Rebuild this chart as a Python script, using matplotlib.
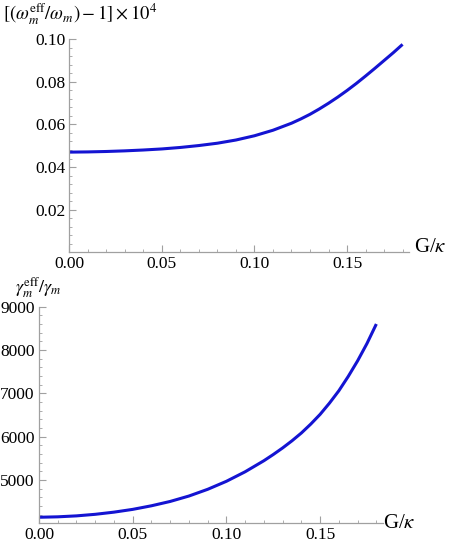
import matplotlib
matplotlib.use("Agg")
import matplotlib.pyplot as plt
from matplotlib.ticker import MultipleLocator, FormatStrFormatter

plt.rcParams['font.family'] = ['Liberation Serif', 'DejaVu Serif']
plt.rcParams['mathtext.fontset'] = 'stix'

# Data
g_kappa = [0.00, 0.01, 0.02, 0.03, 0.04, 0.05, 0.06, 0.07, 0.08, 0.09,
           0.10, 0.11, 0.12, 0.125, 0.13, 0.135, 0.14, 0.145, 0.15, 0.155,
           0.16, 0.165, 0.17, 0.175, 0.18]
omega_shift = [0.0470, 0.0471, 0.0473, 0.0476, 0.0480, 0.0485, 0.0492, 0.0501,
               0.0512, 0.0527, 0.0547, 0.0573, 0.0606, 0.0626, 0.0648, 0.0673,
               0.0700, 0.0729, 0.0760, 0.0793, 0.0828, 0.0864, 0.0901, 0.0938,
               0.0977]
gamma_ratio = [4140, 4150, 4172, 4208, 4258, 4322, 4405, 4505, 4630, 4785,
               4970, 5190, 5445, 5588, 5740, 5905, 6085, 6290, 6515, 6775,
               7060, 7390, 7750, 8150, 8600]

x_ticks = [0.00, 0.05, 0.10, 0.15]
top_yticks = [0.02, 0.04, 0.06, 0.08, 0.10]
bot_yticks = [5000, 6000, 7000, 8000, 9000]

line_color = '#1414d2'
axis_color = '#a0a0a0'

fig = plt.figure(figsize=(4.51, 5.50), dpi=100)
ax1 = fig.add_axes([0.1537, 0.5418, 0.907 - 0.1537, 0.9282 - 0.5418])
ax2 = fig.add_axes([0.0865, 0.0485, 0.849 - 0.0865, 0.4424 - 0.0485])

def style(ax):
    for s in ['top', 'right']:
        ax.spines[s].set_visible(False)
    for s in ['left', 'bottom']:
        ax.spines[s].set_color(axis_color)
        ax.spines[s].set_linewidth(0.9)
    ax.tick_params(which='major', direction='in', length=5, width=0.8,
                   color=axis_color, labelsize=12.5, labelcolor='black', pad=3)
    ax.tick_params(which='minor', direction='in', length=2.5, width=0.6,
                   color=axis_color)
    ax.set_xlim(0, 0.1835)
    ax.set_xticks(x_ticks)
    ax.xaxis.set_minor_locator(MultipleLocator(0.01))
    ax.xaxis.set_major_formatter(FormatStrFormatter('%.2f'))

ax1.plot(g_kappa, omega_shift, color=line_color, lw=2.2,
         solid_capstyle='butt', solid_joinstyle='round')
style(ax1)
ax1.set_ylim(0, 0.1)
ax1.set_yticks(top_yticks)
ax1.yaxis.set_minor_locator(MultipleLocator(0.004))
ax1.yaxis.set_major_formatter(FormatStrFormatter('%.2f'))

ax2.plot(g_kappa, gamma_ratio, color=line_color, lw=2.2,
         solid_capstyle='butt', solid_joinstyle='round')
style(ax2)
ax2.set_ylim(4000, 9000)
ax2.set_yticks(bot_yticks)
ax2.yaxis.set_minor_locator(MultipleLocator(200))

fig.text(3 / 451, 1 - 14 / 550, r'$[(\omega_m^{\rm eff}/\omega_m)-1]\times10^4$',
         fontsize=13.4, ha='left', va='center')
fig.text(15 / 451, 1 - 288 / 550, r'$\gamma_m^{\rm eff}/\gamma_m$',
         fontsize=13, ha='left', va='center')
fig.text(414 / 451, 1 - 248 / 550, r'G/$\kappa$', fontsize=15, ha='left', va='center')
fig.text(383 / 451, 1 - 524 / 550, r'G/$\kappa$', fontsize=15, ha='left', va='center')

fig.savefig('out.png', dpi=100)
